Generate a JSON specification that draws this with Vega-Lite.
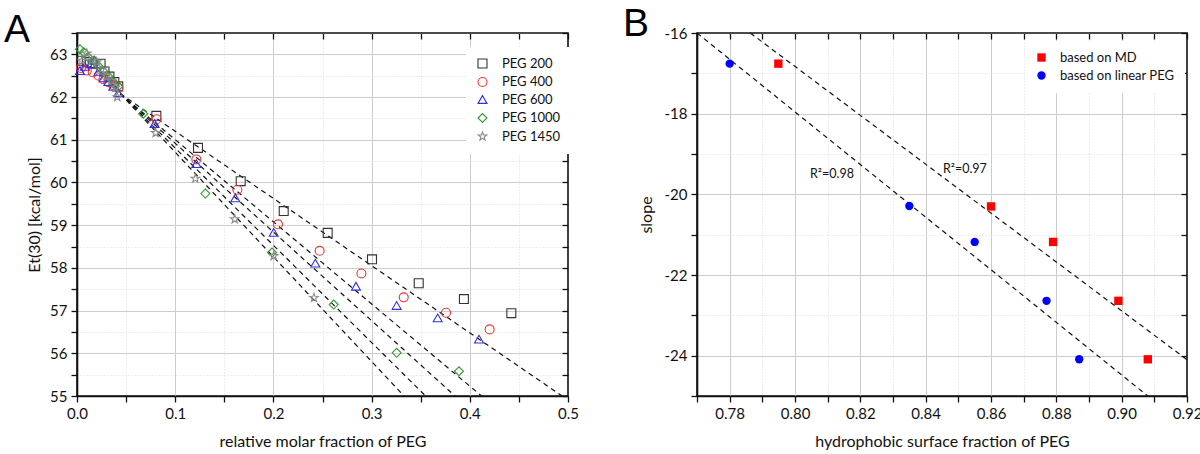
{
  "$schema": "https://vega.github.io/schema/vega-lite/v6.json",
  "padding": {"left": 3, "top": 4, "right": 5, "bottom": 0},
  "background": "white",
  "spacing": 42,
  "resolve": {"scale": {"color": "independent", "shape": "independent"}, "legend": {"color": "independent", "shape": "independent"}},
  "config": {
    "font": "Lato",
    "view": {"stroke": "#111", "strokeWidth": 1.6},
    "axis": {"labelFont": "Lato", "titleFont": "Lato", "labelFontSize": 15, "titleFontSize": 16, "titleFontWeight": "normal", "labelColor": "#111", "titleColor": "#111", "domainColor": "#111", "domainWidth": 1.6, "tickColor": "#111", "tickWidth": 1.3, "labelFlush": false},
    "legend": {"labelFont": "Lato", "labelFontSize": 13, "labelColor": "#111"}
  },
  "hconcat": [
    {
      "width": 491,
      "height": 363,
      "title": {"text": "A", "font": "Liberation Sans", "fontSize": 39, "fontWeight": "normal", "anchor": "start", "frame": "group", "dx": -73, "offset": -18, "color": "#000"},
      "layer": [
        {
          "data": {"values": [
            {"fit": "f1", "x": 0.044, "y": 62.08}, {"fit": "f1", "x": 0.494, "y": 55},
            {"fit": "f2", "x": 0.044, "y": 62.08}, {"fit": "f2", "x": 0.412, "y": 55},
            {"fit": "f3", "x": 0.044, "y": 62.08}, {"fit": "f3", "x": 0.385, "y": 55},
            {"fit": "f4", "x": 0.044, "y": 62.08}, {"fit": "f4", "x": 0.355, "y": 55},
            {"fit": "f5", "x": 0.044, "y": 62.08}, {"fit": "f5", "x": 0.333, "y": 55}
          ]},
          "mark": {"type": "line", "color": "#111", "strokeDash": [5, 4], "strokeWidth": 1.2},
          "encoding": {
            "x": {"field": "x", "type": "quantitative", "scale": {"domain": [0, 0.5], "nice": false, "zero": false},
              "axis": {"orient": "bottom", "title": "relative molar fraction of PEG", "values": [0, 0.05, 0.1, 0.15, 0.2, 0.25, 0.3, 0.35, 0.4, 0.45, 0.5],
                "labelExpr": "round(datum.value*20)%2==0 ? format(datum.value,'.1f') : ''", "tickSize": 6, "labelPadding": 4, "titlePadding": 12,
                "grid": true, "gridColor": {"condition": {"test": "round(datum.value*20)%2==1", "value": "#dddddd"}, "value": "#cccccc"},
                "gridOpacity": {"condition": {"test": "datum.value < 0.001 || datum.value > 0.499", "value": 0}, "value": 1},
                "gridDash": {"condition": {"test": "round(datum.value*20)%2==1", "value": [1, 2]}, "value": []}}},
            "y": {"field": "y", "type": "quantitative", "scale": {"domain": [55, 63.5], "nice": false, "zero": false},
              "axis": {"orient": "left", "title": "Et(30) [kcal/mol]", "values": [55, 55.5, 56, 56.5, 57, 57.5, 58, 58.5, 59, 59.5, 60, 60.5, 61, 61.5, 62, 62.5, 63, 63.5],
                "labelExpr": "datum.value % 1 == 0 ? format(datum.value,'d') : ''", "tickSize": 6, "labelPadding": 4, "titlePadding": 7,
                "grid": true, "gridColor": {"condition": {"test": "datum.value % 1 != 0", "value": "#dddddd"}, "value": "#cccccc"},
                "gridOpacity": {"condition": {"test": "datum.value < 55.01 || datum.value > 63.49", "value": 0}, "value": 1},
                "gridDash": {"condition": {"test": "datum.value % 1 != 0", "value": [1, 2]}, "value": []}}},
            "detail": {"field": "fit", "type": "nominal"}
          }
        },
        {
          "data": {"values": [
            {"series": "PEG 200", "x": 0.004, "y": 62.85}, {"series": "PEG 200", "x": 0.010, "y": 62.82}, {"series": "PEG 200", "x": 0.016, "y": 62.78}, {"series": "PEG 200", "x": 0.024, "y": 62.78}, {"series": "PEG 200", "x": 0.028, "y": 62.6}, {"series": "PEG 200", "x": 0.033, "y": 62.48}, {"series": "PEG 200", "x": 0.038, "y": 62.35}, {"series": "PEG 200", "x": 0.042, "y": 62.25},
            {"series": "PEG 200", "x": 0.0808, "y": 61.56}, {"series": "PEG 200", "x": 0.1232, "y": 60.81}, {"series": "PEG 200", "x": 0.1667, "y": 60.03}, {"series": "PEG 200", "x": 0.2105, "y": 59.33}, {"series": "PEG 200", "x": 0.2553, "y": 58.82}, {"series": "PEG 200", "x": 0.3004, "y": 58.2}, {"series": "PEG 200", "x": 0.348, "y": 57.64}, {"series": "PEG 200", "x": 0.394, "y": 57.27}, {"series": "PEG 200", "x": 0.4423, "y": 56.94},
            {"series": "PEG 400", "x": 0.004, "y": 62.68}, {"series": "PEG 400", "x": 0.010, "y": 62.62}, {"series": "PEG 400", "x": 0.016, "y": 62.58}, {"series": "PEG 400", "x": 0.022, "y": 62.5}, {"series": "PEG 400", "x": 0.027, "y": 62.42}, {"series": "PEG 400", "x": 0.032, "y": 62.35}, {"series": "PEG 400", "x": 0.037, "y": 62.28}, {"series": "PEG 400", "x": 0.042, "y": 62.22},
            {"series": "PEG 400", "x": 0.081, "y": 61.48}, {"series": "PEG 400", "x": 0.1215, "y": 60.54}, {"series": "PEG 400", "x": 0.1633, "y": 59.83}, {"series": "PEG 400", "x": 0.2047, "y": 59.02}, {"series": "PEG 400", "x": 0.2471, "y": 58.4}, {"series": "PEG 400", "x": 0.2896, "y": 57.87}, {"series": "PEG 400", "x": 0.3327, "y": 57.31}, {"series": "PEG 400", "x": 0.3758, "y": 56.95}, {"series": "PEG 400", "x": 0.4202, "y": 56.56},
            {"series": "PEG 600", "x": 0.003, "y": 62.62}, {"series": "PEG 600", "x": 0.008, "y": 62.72}, {"series": "PEG 600", "x": 0.014, "y": 62.78}, {"series": "PEG 600", "x": 0.018, "y": 62.86}, {"series": "PEG 600", "x": 0.022, "y": 62.6}, {"series": "PEG 600", "x": 0.027, "y": 62.45}, {"series": "PEG 600", "x": 0.032, "y": 62.36}, {"series": "PEG 600", "x": 0.037, "y": 62.25}, {"series": "PEG 600", "x": 0.042, "y": 62.1},
            {"series": "PEG 600", "x": 0.079, "y": 61.38}, {"series": "PEG 600", "x": 0.1215, "y": 60.44}, {"series": "PEG 600", "x": 0.1612, "y": 59.64}, {"series": "PEG 600", "x": 0.2003, "y": 58.83}, {"series": "PEG 600", "x": 0.2427, "y": 58.11}, {"series": "PEG 600", "x": 0.2841, "y": 57.57}, {"series": "PEG 600", "x": 0.3255, "y": 57.12}, {"series": "PEG 600", "x": 0.3673, "y": 56.83}, {"series": "PEG 600", "x": 0.4094, "y": 56.33},
            {"series": "PEG 1000", "x": 0.003, "y": 63.12}, {"series": "PEG 1000", "x": 0.007, "y": 63.05}, {"series": "PEG 1000", "x": 0.012, "y": 62.92}, {"series": "PEG 1000", "x": 0.017, "y": 62.85}, {"series": "PEG 1000", "x": 0.022, "y": 62.72}, {"series": "PEG 1000", "x": 0.027, "y": 62.6}, {"series": "PEG 1000", "x": 0.032, "y": 62.48}, {"series": "PEG 1000", "x": 0.037, "y": 62.35}, {"series": "PEG 1000", "x": 0.042, "y": 62.25},
            {"series": "PEG 1000", "x": 0.0675, "y": 61.61}, {"series": "PEG 1000", "x": 0.1307, "y": 59.74}, {"series": "PEG 1000", "x": 0.1986, "y": 58.36}, {"series": "PEG 1000", "x": 0.2614, "y": 57.14}, {"series": "PEG 1000", "x": 0.3255, "y": 56.01}, {"series": "PEG 1000", "x": 0.389, "y": 55.58},
            {"series": "PEG 1450", "x": 0.005, "y": 62.85}, {"series": "PEG 1450", "x": 0.010, "y": 63.02}, {"series": "PEG 1450", "x": 0.015, "y": 62.86}, {"series": "PEG 1450", "x": 0.020, "y": 62.82}, {"series": "PEG 1450", "x": 0.025, "y": 62.65}, {"series": "PEG 1450", "x": 0.030, "y": 62.5}, {"series": "PEG 1450", "x": 0.035, "y": 62.38}, {"series": "PEG 1450", "x": 0.039, "y": 62.22}, {"series": "PEG 1450", "x": 0.041, "y": 62.0},
            {"series": "PEG 1450", "x": 0.0801, "y": 61.16}, {"series": "PEG 1450", "x": 0.1205, "y": 60.09}, {"series": "PEG 1450", "x": 0.1606, "y": 59.14}, {"series": "PEG 1450", "x": 0.2003, "y": 58.28}, {"series": "PEG 1450", "x": 0.2413, "y": 57.3}
          ]},
          "mark": {"type": "point", "filled": false, "size": 80, "strokeWidth": 1.1, "opacity": 1},
          "encoding": {
            "x": {"field": "x", "type": "quantitative", "scale": {"domain": [0, 0.5], "nice": false, "zero": false},
              "axis": {"orient": "top", "title": null, "labels": false, "grid": false, "domain": false, "offset": -6, "values": [0, 0.05, 0.1, 0.15, 0.2, 0.25, 0.3, 0.35, 0.4, 0.45, 0.5], "tickSize": 6}},
            "y": {"field": "y", "type": "quantitative", "scale": {"domain": [55, 63.5], "nice": false, "zero": false},
              "axis": {"orient": "right", "title": null, "labels": false, "grid": false, "domain": false, "offset": -6, "values": [55, 55.5, 56, 56.5, 57, 57.5, 58, 58.5, 59, 59.5, 60, 60.5, 61, 61.5, 62, 62.5, 63, 63.5], "tickSize": 6}},
            "color": {"field": "series", "type": "nominal",
              "scale": {"domain": ["PEG 200", "PEG 400", "PEG 600", "PEG 1000", "PEG 1450"], "range": ["#333333", "#ee3333", "#3030e0", "#2e9a2e", "#8a8a8a"]},
              "legend": {"title": null, "orient": "none", "legendX": 389, "legendY": 14, "fillColor": "white", "padding": 10, "rowPadding": 3.5, "labelOffset": 13, "symbolSize": 80, "symbolStrokeWidth": 1.1}},
            "shape": {"field": "series", "type": "nominal",
              "scale": {"domain": ["PEG 200", "PEG 400", "PEG 600", "PEG 1000", "PEG 1450"], "range": ["square", "circle", "triangle-up", "diamond", "M0,-1L0.235,-0.324L0.951,-0.309L0.38,0.124L0.588,0.809L0,0.4L-0.588,0.809L-0.38,0.124L-0.951,-0.309L-0.235,-0.324Z"]}}
          }
        }
      ],
      "resolve": {"axis": {"x": "independent", "y": "independent"}}
    },
    {
      "width": 490,
      "height": 363,
      "title": {"text": "B", "font": "Liberation Sans", "fontSize": 39, "fontWeight": "normal", "anchor": "start", "frame": "group", "dx": -74, "offset": -18, "color": "#000"},
      "layer": [
        {
          "data": {"values": [
            {"fit": "MD", "x": 0.7863, "y": -16}, {"fit": "MD", "x": 0.92, "y": -24.1},
            {"fit": "linear", "x": 0.77, "y": -16.0}, {"fit": "linear", "x": 0.908, "y": -25}
          ]},
          "mark": {"type": "line", "color": "#111", "strokeDash": [5, 4], "strokeWidth": 1.2},
          "encoding": {
            "x": {"field": "x", "type": "quantitative", "scale": {"domain": [0.77, 0.92], "nice": false, "zero": false},
              "axis": {"orient": "bottom", "title": "hydrophobic surface fraction of PEG", "values": [0.77, 0.78, 0.79, 0.8, 0.81, 0.82, 0.83, 0.84, 0.85, 0.86, 0.87, 0.88, 0.89, 0.9, 0.91, 0.92],
                "labelExpr": "round(datum.value*100)%2==0 ? format(datum.value,'.2f') : ''", "tickSize": 6, "labelPadding": 4, "titlePadding": 12,
                "grid": true, "gridColor": {"condition": {"test": "round(datum.value*100)%2==1", "value": "#dddddd"}, "value": "#cccccc"},
                "gridOpacity": {"condition": {"test": "datum.value < 0.7701 || datum.value > 0.9199", "value": 0}, "value": 1},
                "gridDash": {"condition": {"test": "round(datum.value*100)%2==1", "value": [1, 2]}, "value": []}}},
            "y": {"field": "y", "type": "quantitative", "scale": {"domain": [-25, -16], "nice": false, "zero": false},
              "axis": {"orient": "left", "title": "slope", "values": [-25, -24, -23, -22, -21, -20, -19, -18, -17, -16],
                "labelExpr": "datum.value % 2 == 0 ? '-' + format(-datum.value,'d') : ''", "tickSize": 6, "labelPadding": 4, "titlePadding": 10,
                "grid": true, "gridColor": {"condition": {"test": "datum.value % 2 != 0", "value": "#dddddd"}, "value": "#cccccc"},
                "gridOpacity": {"condition": {"test": "datum.value < -24.99 || datum.value > -16.01", "value": 0}, "value": 1},
                "gridDash": {"condition": {"test": "datum.value % 2 != 0", "value": [1, 2]}, "value": []}}},
            "detail": {"field": "fit", "type": "nominal"}
          }
        },
        {
          "data": {"values": [
            {"series": "based on MD", "x": 0.7949, "y": -16.76}, {"series": "based on MD", "x": 0.86, "y": -20.3}, {"series": "based on MD", "x": 0.879, "y": -21.18}, {"series": "based on MD", "x": 0.899, "y": -22.64}, {"series": "based on MD", "x": 0.908, "y": -24.09},
            {"series": "based on linear PEG", "x": 0.78, "y": -16.76}, {"series": "based on linear PEG", "x": 0.835, "y": -20.29}, {"series": "based on linear PEG", "x": 0.855, "y": -21.18}, {"series": "based on linear PEG", "x": 0.877, "y": -22.64}, {"series": "based on linear PEG", "x": 0.887, "y": -24.09}
          ]},
          "mark": {"type": "point", "filled": true, "size": 70, "opacity": 1},
          "encoding": {
            "x": {"field": "x", "type": "quantitative", "scale": {"domain": [0.77, 0.92], "nice": false, "zero": false},
              "axis": {"orient": "top", "title": null, "labels": false, "grid": false, "domain": false, "offset": -6, "values": [0.77, 0.78, 0.79, 0.8, 0.81, 0.82, 0.83, 0.84, 0.85, 0.86, 0.87, 0.88, 0.89, 0.9, 0.91, 0.92], "tickSize": 6}},
            "y": {"field": "y", "type": "quantitative", "scale": {"domain": [-25, -16], "nice": false, "zero": false},
              "axis": {"orient": "right", "title": null, "labels": false, "grid": false, "domain": false, "offset": -6, "values": [-25, -24, -23, -22, -21, -20, -19, -18, -17, -16], "tickSize": 6}},
            "color": {"field": "series", "type": "nominal",
              "scale": {"domain": ["based on MD", "based on linear PEG"], "range": ["#ff0000", "#0000ff"]},
              "legend": {"title": null, "orient": "none", "legendX": 328, "legendY": 8, "fillColor": "white", "padding": 10, "rowPadding": 4, "labelOffset": 12, "symbolSize": 70}},
            "shape": {"field": "series", "type": "nominal",
              "scale": {"domain": ["based on MD", "based on linear PEG"], "range": ["square", "circle"]}}
          }
        },
        {
          "data": {"values": [
            {"label": "R²=0.98", "x": 0.8113, "y": -19.5},
            {"label": "R²=0.97", "x": 0.852, "y": -19.38}
          ]},
          "mark": {"type": "text", "font": "Lato", "fontSize": 12.5, "color": "#111", "align": "center", "baseline": "middle"},
          "encoding": {
            "x": {"field": "x", "type": "quantitative", "scale": {"domain": [0.77, 0.92], "nice": false, "zero": false}, "axis": null},
            "y": {"field": "y", "type": "quantitative", "scale": {"domain": [-25, -16], "nice": false, "zero": false}, "axis": null},
            "text": {"field": "label", "type": "nominal"}
          }
        }
      ],
      "resolve": {"axis": {"x": "independent", "y": "independent"}}
    }
  ]
}
